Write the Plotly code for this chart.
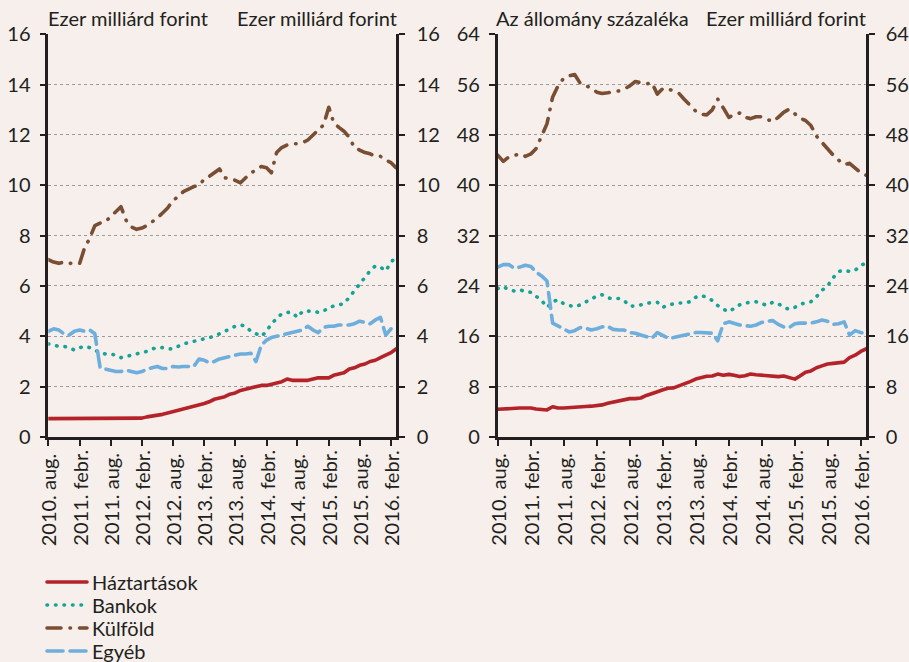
import pandas as pd
import plotly.graph_objects as go

months = pd.date_range("2010-08-01", periods=68, freq="MS")
tick_dates = pd.date_range("2010-08-01", periods=12, freq="6MS")
tick_labels = ["2010. aug.", "2011. febr.", "2011. aug.", "2012. febr.", "2012. aug.", "2013. febr.",
               "2013. aug.", "2014. febr.", "2014. aug.", "2015. febr.", "2015. aug.", "2016. febr."]

names = ["Háztartások", "Bankok", "Külföld", "Egyéb"]

# Left panel: Ezer milliárd forint
hazt_bn = [0.73]*18 + [0.75, 0.8, 0.83, 0.85, 0.9, 0.95, 1.0, 1.05, 1.1, 1.15, 1.2, 1.25, 1.33, 1.4, 1.5,
           1.55, 1.6, 1.7, 1.75, 1.85, 1.9, 1.95, 2.0, 2.05, 2.05, 2.1, 2.15, 2.2, 2.3, 2.25, 2.25, 2.25,
           2.25, 2.3, 2.35, 2.35, 2.35, 2.45, 2.5, 2.55, 2.7, 2.75, 2.85, 2.9, 3.0, 3.05, 3.15, 3.25, 3.35, 3.5]
bank_bn = [3.7, 3.65, 3.6, 3.6, 3.55, 3.45, 3.55, 3.6, 3.55, 3.45, 3.35, 3.3, 3.3, 3.25, 3.15, 3.2, 3.25,
           3.3, 3.35, 3.4, 3.5, 3.55, 3.55, 3.5, 3.5, 3.6, 3.7, 3.75, 3.8, 3.85, 3.9, 3.95, 4.0, 4.1, 4.2,
           4.3, 4.4, 4.45, 4.4, 4.2, 4.1, 4.0, 4.2, 4.5, 4.7, 4.9, 4.95, 4.95, 4.75, 5.0, 5.0, 5.0, 4.95,
           5.0, 5.15, 5.2, 5.25, 5.3, 5.55, 5.8, 6.05, 6.3, 6.6, 6.8, 6.75, 6.6, 6.95, 7.15]
kulf_bn = [7.05, 6.95, 6.9, 6.95, 6.9, 6.9, 6.9, 7.5, 7.9, 8.4, 8.5, 8.55, 8.75, 8.95, 9.15, 8.6, 8.35,
           8.25, 8.3, 8.4, 8.55, 8.7, 8.9, 9.1, 9.4, 9.55, 9.75, 9.85, 9.95, 10.0, 10.25, 10.35, 10.5,
           10.65, 10.3, 10.25, 10.2, 10.1, 10.3, 10.5, 10.6, 10.75, 10.7, 10.5, 11.3, 11.5, 11.6, 11.65,
           11.65, 11.7, 11.8, 12.0, 12.2, 12.4, 13.1, 12.5, 12.3, 12.15, 11.9, 11.5, 11.4, 11.3, 11.25,
           11.15, 11.15, 11.0, 10.9, 10.7]
egyeb_bn = [4.2, 4.3, 4.25, 4.1, 4.05, 4.2, 4.25, 4.2, 4.25, 4.1, 2.75, 2.7, 2.65, 2.6, 2.6, 2.65, 2.6,
            2.55, 2.6, 2.7, 2.75, 2.8, 2.72, 2.72, 2.8, 2.78, 2.8, 2.8, 2.8, 3.1, 3.05, 2.95, 3.0, 3.1,
            3.15, 3.2, 3.25, 3.3, 3.3, 3.33, 3.0, 3.65, 3.85, 3.95, 4.0, 4.05, 4.1, 4.15, 4.2, 4.25, 4.4,
            4.25, 4.15, 4.35, 4.4, 4.4, 4.45, 4.45, 4.45, 4.5, 4.6, 4.55, 4.5, 4.65, 4.75, 4.05, 4.3, 4.2]

# Right panel: Az állomány százaléka
hazt_pct = [4.4, 4.45, 4.6, 4.6, 4.6, 4.6, 4.6, 4.45, 4.4, 4.3, 4.8, 4.6, 4.6, 4.7, 4.75, 4.8, 4.85, 4.9,
            5.0, 5.1, 5.35, 5.55, 5.75, 5.95, 6.1, 6.1, 6.2, 6.6, 6.95, 7.2, 7.5, 7.75, 7.8, 8.1, 8.4, 8.8,
            9.2, 9.5, 9.65, 9.7, 10.0, 9.8, 9.95, 9.8, 9.6, 9.75, 10.0, 9.9, 9.8, 9.75, 9.7, 9.6, 9.7, 9.5,
            9.2, 9.7, 10.3, 10.5, 11.0, 11.3, 11.6, 11.7, 11.75, 11.9, 12.6, 13.0, 13.6, 14.0]
bank_pct = [23.6, 23.9, 23.4, 23.2, 23.4, 23.1, 23.0, 22.4, 21.7, 20.6, 21.5, 21.8, 21.2, 20.9, 20.7, 21.0,
            21.5, 21.9, 22.4, 22.6, 22.1, 22.0, 22.0, 21.7, 20.8, 20.8, 21.0, 21.3, 21.4, 21.4, 20.6, 21.0,
            21.2, 21.3, 21.3, 21.5, 22.2, 22.5, 22.2, 21.7, 20.9, 20.3, 19.9, 20.4, 21.0, 21.3, 21.4, 21.5,
            21.2, 20.9, 21.4, 21.2, 20.6, 20.3, 20.6, 21.1, 21.3, 21.5, 22.3, 23.3, 24.0, 25.3, 26.3, 26.5,
            26.3, 26.5, 27.3, 27.6]
kulf_pct = [44.8, 43.8, 44.5, 44.8, 45.0, 44.6, 45.0, 45.8, 47.7, 49.8, 54.0, 55.8, 57.0, 57.4, 57.6, 56.2,
            55.8, 55.5, 54.8, 54.6, 54.7, 54.8, 55.0, 55.3, 55.8, 56.5, 56.3, 56.1, 56.3, 54.5, 55.4, 55.3,
            55.0, 54.6, 53.6, 52.8, 51.8, 51.3, 51.2, 52.0, 53.7, 52.3, 50.8, 51.2, 51.5, 50.8, 50.6, 50.9,
            50.9, 50.5, 50.1, 50.8, 51.6, 52.1, 51.3, 50.7, 50.3, 49.5, 47.8, 46.8, 45.9, 44.8, 44.0, 43.3,
            43.5, 42.7, 42.0, 41.6]
egyeb_pct = [27.0, 27.4, 27.4, 26.8, 27.0, 27.3, 27.1, 26.2, 25.6, 24.8, 18.1, 17.6, 17.2, 16.7, 16.9, 17.4,
             17.3, 17.0, 17.2, 17.5, 17.6, 17.1, 17.0, 17.0, 16.6, 16.5, 16.2, 16.0, 15.7, 16.6, 16.2, 15.7,
             15.8, 16.0, 16.3, 16.5, 16.6, 16.6, 16.6, 16.5, 15.3, 18.0, 18.3, 18.0, 17.8, 17.7, 17.6, 17.8,
             18.2, 18.4, 18.5, 17.9, 17.5, 17.4, 18.0, 18.1, 18.1, 18.1, 18.3, 18.6, 18.4, 17.9, 18.0, 18.3,
             16.2, 16.9, 16.6, 16.4]

left_title = "Ezer milliárd forint"
right_title_pct = "Az állomány százaléka"

colors = ["#B4232A", "#14A394", "#7A4E32", "#6EAEDC"]
dashes = ["solid", "0.5px,8px", "14px,9px,0.5px,9px", "16px,7px"]

BG = "#F6EFEB"
INK = "#231F20"
FONT = "Lato"
FS = 20

W, H = 909, 662
legend_rows = [582, 605, 628, 651]
legend_keys = ["legend", "legend2", "legend3", "legend4"]

fig = go.Figure()
left_series = [hazt_bn, bank_bn, kulf_bn, egyeb_bn]
right_series = [hazt_pct, bank_pct, kulf_pct, egyeb_pct]
for k in range(4):
    fig.add_trace(go.Scatter(x=months, y=left_series[k], name=names[k], mode="lines",
                             line=dict(color=colors[k], width=3.6, dash=dashes[k]),
                             xaxis="x", yaxis="y", showlegend=True, legend=legend_keys[k]))
for k in range(4):
    fig.add_trace(go.Scatter(x=months, y=right_series[k], name=names[k], mode="lines",
                             line=dict(color=colors[k], width=3.6, dash=dashes[k]),
                             xaxis="x2", yaxis="y2", showlegend=False))

xl = [48.3 / W, 396 / W]
xr = [497.7 / W, 866 / W]
yd = [1 - 437 / H, 1 - 34.3 / H]

xrange = [months[0], months[-1]]
tickfont = dict(family=FONT, size=FS, color=INK)

def xax(domain, anchor):
    return dict(domain=domain, anchor=anchor, type="date", range=xrange, showgrid=False,
                showline=True, linecolor=INK, linewidth=2.5, ticks="outside", ticklen=6,
                tickwidth=2, tickcolor=INK, tickvals=tick_dates, showticklabels=False,
                zeroline=False, fixedrange=True)

def yax(domain, anchor, rng, dtick, side, overlaying=None, grid=True, standoff=5):
    d = dict(domain=domain, anchor=anchor, range=rng, dtick=dtick, side=side,
             showline=True, linecolor=INK, linewidth=2.5, ticks="outside", ticklen=6,
             tickwidth=2, tickcolor=INK, tickfont=tickfont, zeroline=False,
             showgrid=grid, gridcolor="#9A9A9A", gridwidth=1.2, griddash="dot",
             ticklabelstandoff=standoff, fixedrange=True)
    if overlaying:
        d["overlaying"] = overlaying
    return d

layout = dict(
    width=W, height=H,
    paper_bgcolor=BG, plot_bgcolor=BG,
    margin=dict(l=0, r=0, t=0, b=0, autoexpand=False),
    font=dict(family=FONT, size=FS, color=INK),
    xaxis=xax(xl, "y"),
    xaxis2=xax(xr, "y2"),
    yaxis=yax(yd, "x", [0, 16], 2, "left"),
    yaxis2=yax(yd, "x2", [0, 64], 8, "left"),
    yaxis3=yax(yd, "x", [0, 16], 2, "right", overlaying="y", grid=False, standoff=8),
    yaxis4=yax(yd, "x2", [0, 64], 8, "right", overlaying="y2", grid=False, standoff=7),
    showlegend=True,
)
for key, row in zip(legend_keys, legend_rows):
    layout[key] = dict(x=42 / W, y=1 - row / H, xanchor="left", yanchor="middle",
                       bgcolor="rgba(0,0,0,0)", font=dict(family=FONT, size=FS, color=INK),
                       itemwidth=40)
fig.update_layout(**layout)

# invisible anchors so the right-hand axes render
fig.add_trace(go.Scatter(x=[months[0]], y=[0], yaxis="y3", xaxis="x", mode="markers",
                         marker=dict(opacity=0), showlegend=False, hoverinfo="skip"))
fig.add_trace(go.Scatter(x=[months[0]], y=[0], yaxis="y4", xaxis="x2", mode="markers",
                         marker=dict(opacity=0), showlegend=False, hoverinfo="skip"))

ann = []
for xa in ["x", "x2"]:
    for d, t in zip(tick_dates, tick_labels):
        ann.append(dict(x=d, xref=xa, y=1 - 547 / H, yref="paper", text=t, textangle=-90,
                        showarrow=False, xanchor="center", yanchor="bottom",
                        font=dict(family=FONT, size=FS, color=INK), borderpad=0))
title_font = dict(family=FONT, size=FS, color=INK)
ann += [
    dict(x=46 / W, y=1 - 18 / H, xref="paper", yref="paper", text=left_title, showarrow=False,
         xanchor="left", yanchor="middle", font=title_font),
    dict(x=399 / W, y=1 - 18 / H, xref="paper", yref="paper", text=left_title, showarrow=False,
         xanchor="right", yanchor="middle", font=title_font),
    dict(x=494 / W, y=1 - 18 / H, xref="paper", yref="paper", text=right_title_pct, showarrow=False,
         xanchor="left", yanchor="middle", font=title_font),
    dict(x=868 / W, y=1 - 18 / H, xref="paper", yref="paper", text=left_title, showarrow=False,
         xanchor="right", yanchor="middle", font=title_font),
]
fig.update_layout(annotations=ann)

post = ("document.body.style.margin = '0';"
        "var gd = document.getElementById('{plot_id}');"
        "var rc = () => gd.querySelectorAll('path.js-line, .legendlines path').forEach(p => "
        "(p.style.strokeLinecap = 'round', p.style.strokeLinejoin = 'round'));"
        "rc(); gd.on('plotly_afterplot', rc);")
fig.write_html("out.html", post_script=post, config=dict(displayModeBar=False))
